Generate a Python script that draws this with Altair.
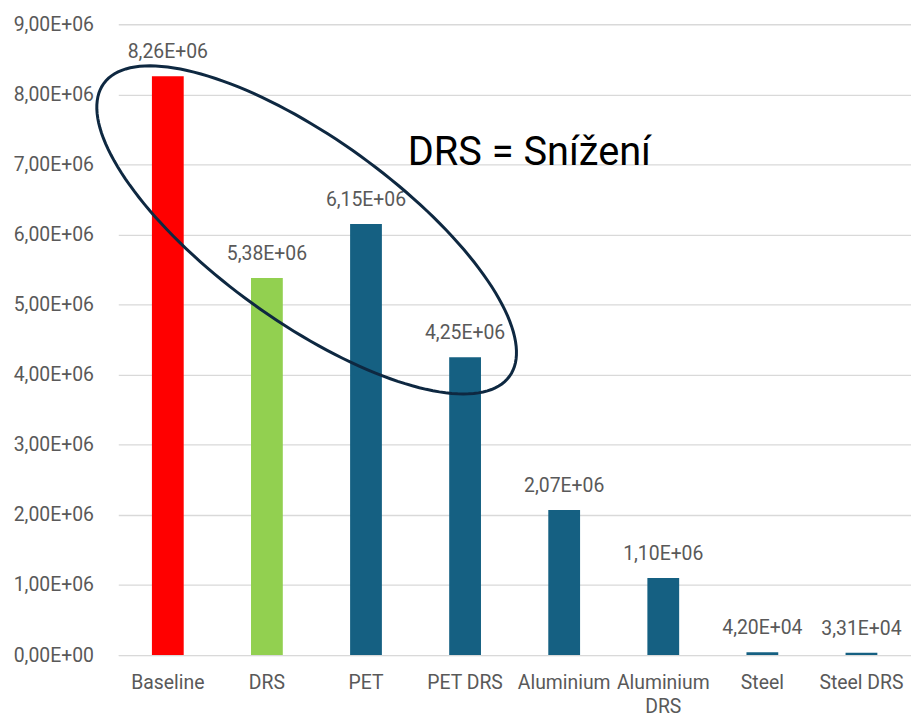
import math
import altair as alt
import pandas as pd

categories = ["Baseline", "DRS", "PET", "PET DRS", "Aluminium", "Aluminium DRS", "Steel", "Steel DRS"]
values = [8.26e6, 5.38e6, 6.15e6, 4.25e6, 2.07e6, 1.10e6, 4.20e4, 3.31e4]
value_labels = ["8,26E+06", "5,38E+06", "6,15E+06", "4,25E+06", "2,07E+06", "1,10E+06", "4,20E+04", "3,31E+04"]
bar_colors = ["#FF0000", "#92D050", "#156082", "#156082", "#156082", "#156082", "#156082", "#156082"]
y_ticks = [0, 1e6, 2e6, 3e6, 4e6, 5e6, 6e6, 7e6, 8e6, 9e6]
y_tick_labels = ["0,00E+00", "1,00E+06", "2,00E+06", "3,00E+06", "4,00E+06",
                 "5,00E+06", "6,00E+06", "7,00E+06", "8,00E+06", "9,00E+06"]
annotation_text = "DRS = Snížení"

W = 798
H = 635
FONT = "Roboto"
FS = 19.5
GRAY = "#595959"

df = pd.DataFrame({"cat": categories, "value": values, "label": value_labels, "color": bar_colors})

# ellipse annotation (shape defined in pixel space of the plot, converted to data units)
ecx, ecy = 192 * W / 808, 207   # center, px from plot left / top
ea, eb = 255 * W / 808, 92      # semi-axes, px
eang = math.radians(35.8)
pts = []
n = 160
for k in range(n + 1):
    t = 2 * math.pi * k / n
    px = ecx + ea * math.cos(t) * math.cos(eang) - eb * math.sin(t) * math.sin(eang)
    py = ecy + ea * math.cos(t) * math.sin(eang) + eb * math.sin(t) * math.cos(eang)
    pts.append({"i": k, "xi": px / W * 8, "v": (H - py) / H * 9e6})
ell = pd.DataFrame(pts)

ann = pd.DataFrame({"xi": [(537 - 118) / 101], "v": [(655 - 150) / 635 * 9e6], "t": [annotation_text]})

label_arr = "[" + ",".join("'" + s + "'" for s in y_tick_labels) + "]"

yscale = alt.Scale(domain=[0, 9e6], nice=False)
xscale = alt.Scale(paddingInner=0, paddingOuter=0)

bars = alt.Chart(df).mark_bar(size=32).encode(
    x=alt.X("cat:N", sort=categories, scale=xscale, title=None,
            axis=alt.Axis(labelAngle=0, ticks=False, domain=True, domainColor="#D9D9D9",
                          labelPadding=19, labelFontSize=FS, labelColor=GRAY, labelFont=FONT,
                          labelLimit=200, labelLineHeight=24,
                          labelExpr="datum.label == 'Aluminium DRS' ? ['Aluminium', 'DRS'] : datum.label")),
    y=alt.Y("value:Q", scale=yscale, title=None,
            axis=alt.Axis(values=y_ticks, domain=False, ticks=False, labelPadding=25,
                          labelFontSize=FS, labelColor=GRAY, labelFont=FONT,
                          gridColor="#D9D9D9", gridWidth=1.3,
                          labelExpr=label_arr + "[round(datum.value / 1000000)]")),
    color=alt.Color("color:N", scale=None),
)

labels = alt.Chart(df).mark_text(baseline="bottom", dy=-14, fontSize=FS, color=GRAY, font=FONT).encode(
    x=alt.X("cat:N", sort=categories, scale=xscale, axis=None),
    y=alt.Y("value:Q", scale=yscale),
    text="label:N",
)

ellipse = alt.Chart(ell).mark_line(color="#0E2841", strokeWidth=3).encode(
    x=alt.X("xi:Q", scale=alt.Scale(domain=[0, 8], nice=False, zero=False), axis=None),
    y=alt.Y("v:Q", scale=yscale),
    order="i:Q",
)

anntext = alt.Chart(ann).mark_text(fontSize=40, color="#000000", font=FONT, baseline="middle").encode(
    x=alt.X("xi:Q", scale=alt.Scale(domain=[0, 8], nice=False, zero=False), axis=None),
    y=alt.Y("v:Q", scale=yscale),
    text="t:N",
)

chart = alt.layer(bars, labels, ellipse, anntext).resolve_scale(x="independent").properties(
    width=W, height=H, padding={"left": 5, "top": 4, "right": 0, "bottom": 5}
).configure_view(stroke=None)

chart.save("out.html", embed_options={"renderer": "svg", "actions": False})
